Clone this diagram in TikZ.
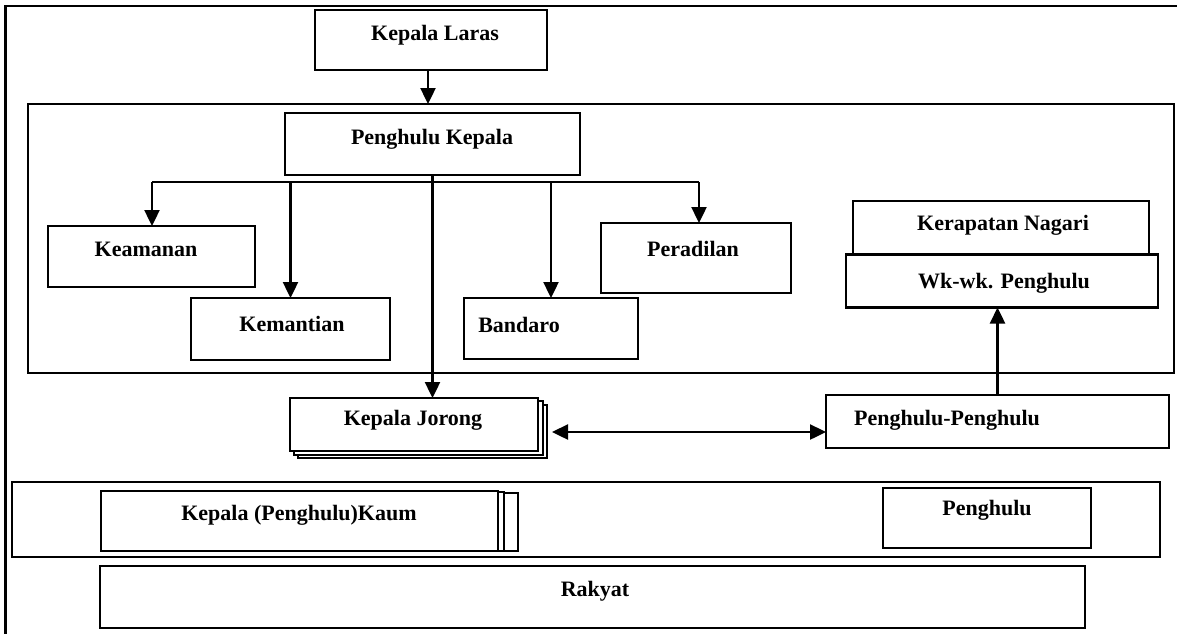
\documentclass[tikz,border=0pt]{standalone}
\usepackage{fontspec}
\setmainfont{Liberation Serif}
\usetikzlibrary{arrows.meta}
\begin{document}
\begin{tikzpicture}[x=1pt,y=-1pt,
  box/.style={draw, line width=2.2pt, fill=white, rectangle, inner sep=0pt, outer sep=0pt},
  frame/.style={draw, line width=2.2pt, rectangle, inner sep=0pt, outer sep=0pt},
  lbl/.style={anchor=base, inner sep=0pt, font=\fontsize{22}{26}\selectfont\bfseries},
  link/.style={line width=2.4pt},
  arr/.style={link, -{Triangle[length=16pt,width=15pt]}},
  darr/.style={link, {Triangle[length=16pt,width=15pt]}-{Triangle[length=16pt,width=15pt]}}]
\useasboundingbox (0,0) rectangle (1177,633);
\clip (0,0) rectangle (1177,633);
\fill[white] (0,0) rectangle (1177,633);

% outer frame, running past the page edges
\draw[line width=2.2pt] (5.5,6) rectangle (1210,660);

% grouping frames
\node[frame, minimum width=1146pt, minimum height=269pt] (frameA) at (601,238.5) {};
\node[frame, minimum width=1148pt, minimum height=75pt] (frameB) at (586,519.5) {};

% top of the hierarchy
\node[box, minimum width=232pt, minimum height=60pt] (laras) at (431,40) {};
\node[lbl] (tlaras) at (435,40) {Kepala Laras};

\node[box, minimum width=295pt, minimum height=62pt] (pk) at (432.5,144) {};
\node[lbl] (tpk) at (432,144) {Penghulu Kepala};

% departments under the Penghulu Kepala
\node[box, minimum width=207pt, minimum height=61pt] (keamanan) at (151.5,256.5) {};
\node[lbl] (tkeamanan) at (146,256) {Keamanan};
\node[box, minimum width=199pt, minimum height=62pt] (kemantian) at (290.5,329) {};
\node[lbl] (tkemantian) at (292,331) {Kemantian};
\node[box, minimum width=174pt, minimum height=61pt] (bandaro) at (551,328.5) {};
\node[lbl] (tbandaro) at (519,332) {Bandaro};
\node[box, minimum width=190pt, minimum height=70pt] (peradilan) at (696,258) {};
\node[lbl] (tperadilan) at (693,256) {Peradilan};

% council
\node[box, minimum width=296pt, minimum height=62pt] (kerapatan) at (1001,232) {};
\node[lbl] (tkerapatan) at (1003,230) {Kerapatan Nagari};
\node[box, minimum width=312pt, minimum height=53pt] (wk) at (1002,281) {};
\node[lbl] (twk) at (1004,288) {Wk-wk. Penghulu};

% Kepala Jorong (stacked)
\node[box, minimum width=249pt, minimum height=53pt] (jorong3) at (422.5,431.5) {};
\node[box, minimum width=249pt, minimum height=54pt] (jorong2) at (418.5,428) {};
\node[box, minimum width=248pt, minimum height=53pt] (jorong) at (414,424.5) {};
\node[lbl] (tjorong) at (413,425) {Kepala Jorong};

\node[box, minimum width=343pt, minimum height=53pt] (pp) at (997.5,421.5) {};
\node[lbl] (tpp) at (947,425) {Penghulu-Penghulu};

% Kepala (Penghulu) Kaum (stacked)
\node[box, minimum width=410pt, minimum height=58pt] (kaum3) at (313,522) {};
\node[box, minimum width=402pt, minimum height=59pt] (kaum2) at (303,521.5) {};
\node[box, minimum width=397pt, minimum height=60pt] (kaum) at (299.5,521) {};
\node[lbl] (tkaum) at (299,520) {Kepala (Penghulu)Kaum};

\node[box, minimum width=208pt, minimum height=60pt] (penghulu) at (987,518) {};
\node[lbl] (tpenghulu) at (987,515) {Penghulu};

\node[box, minimum width=985pt, minimum height=62pt] (rakyat) at (592.5,597) {};
\node[lbl] (trakyat) at (595,596) {Rakyat};

% connectors
\draw[arr] (laras.south -| 428,0) -- (frameA.north -| 428,0);

\coordinate (barL) at (152,182);
\coordinate (barR) at (699,182);
\draw[link] (barL) -- (barR);
\draw[link] (pk.south) -- (pk.south |- barL);
\draw[arr] (barL) -- (barL |- keamanan.north);
\draw[arr] (kemantian.north |- barL) -- (kemantian.north);
\draw[arr] (bandaro.north |- barL) -- (bandaro.north);
\draw[arr] (barR) -- (barR |- peradilan.north);
\draw[arr] (pk.south) -- (pk.south |- jorong.north);

\coordinate (jr) at (552,432);
\draw[darr] (jr) -- (jr -| pp.west);
\draw[arr] (pp.north) -- (pp.north |- wk.south);
\end{tikzpicture}
\end{document}
